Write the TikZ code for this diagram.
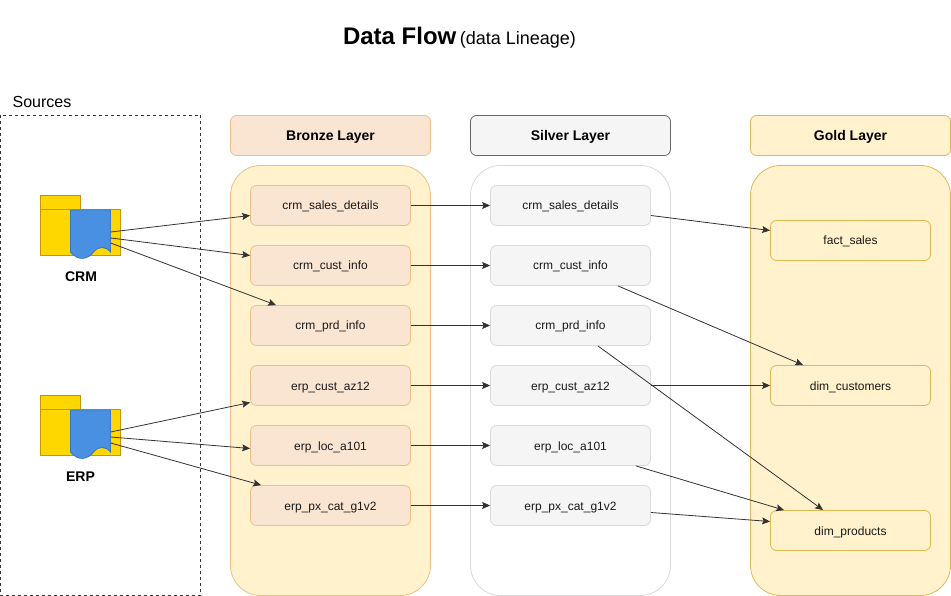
\documentclass[tikz,border=0pt]{standalone}
\usepackage{fontspec}
\usetikzlibrary{arrows.meta}
\setmainfont{Liberation Sans}
\definecolor{bronzefill}{HTML}{FAE5D3}
\definecolor{bronzeline}{HTML}{F2BE85}
\definecolor{goldfill}{HTML}{FFF2CC}
\definecolor{goldline}{HTML}{E0B950}
\definecolor{silverfill}{HTML}{F5F5F5}
\definecolor{silverline}{HTML}{DADADA}
\definecolor{flowline}{HTML}{333333}
\definecolor{folderfill}{HTML}{FFD700}
\definecolor{folderline}{HTML}{C6930A}
\definecolor{docfill}{HTML}{4A90E2}
\definecolor{docline}{HTML}{357ABD}
\tikzset{
	panel/.style={rounded corners=30pt,minimum width=200pt,minimum height=430pt,line width=.8pt},
	head/.style={rounded corners=6pt,minimum width=200pt,minimum height=40pt,line width=.8pt,text height=10.5pt,text depth=0pt,font=\fontsize{14}{16}\selectfont\bfseries},
	tbl/.style={rounded corners=6pt,minimum width=160pt,minimum height=40pt,line width=.8pt,text height=9pt,text depth=0pt,font=\fontsize{12}{14}\selectfont,text=black!90},
	bronze/.style={tbl,fill=bronzefill,draw=bronzeline},
	silver/.style={tbl,fill=silverfill,draw=silverline},
	gold/.style={tbl,fill=goldfill,draw=goldline},
	flow/.style={->,draw=flowline,line width=.8pt},
	srcdoc/.style={minimum width=40pt,minimum height=44pt,inner sep=0pt},
	srclabel/.style={font=\fontsize{14}{16}\selectfont\bfseries}
}
\newcommand{\srcicon}[1]{
	\draw[fill=folderfill,draw=folderline,line width=.8pt] (40,#1-14) rectangle (80,#1);
	\draw[fill=folderfill,draw=folderline,line width=.8pt] (40,#1) rectangle (120,#1+46);
	\draw[fill=docfill,draw=docline,line width=.8pt] (70,#1+1) -- (110,#1+1) -- (110,#1+43) .. controls (105,#1+37) and (98,#1+37) .. (93,#1+43) .. controls (88,#1+50) and (78,#1+53) .. (70,#1+43) -- cycle;
}
\begin{document}
\begin{tikzpicture}[x=1pt,y=-1pt,>={Stealth[length=8pt,width=7pt,inset=1.5pt]}]
\useasboundingbox (-.5,0) rectangle (950.5,596);
\node (title) at (459,38) {\fontsize{24}{28}\selectfont\bfseries Data Flow\hspace{3.5pt}\fontsize{18}{28}\selectfont\mdseries (data Lineage)};
\node[font=\fontsize{16}{18}\selectfont] (sourcestitle) at (41.5,102) {Sources};
\draw[dashed,dash pattern=on 3pt off 3pt,line width=.7pt,draw=black!80] (0,115) rectangle (200,595.5);

\node[panel,fill=goldfill,draw=bronzeline] (bronzepanel) at (330,380.5) {};
\node[panel,fill=white,draw=silverline] (silverpanel) at (570,380.5) {};
\node[panel,fill=goldfill,draw=goldline] (goldpanel) at (850,380.5) {};
\node[head,fill=bronzefill,draw=bronzeline] (bronzehead) at (330,135.5) {Bronze Layer};
\node[head,fill=silverfill,draw=black!60] (silverhead) at (570,135.5) {Silver Layer};
\node[head,fill=goldfill,draw=goldline] (goldhead) at (850,135.5) {Gold Layer};

\srcicon{209}
\srcicon{409}
\node[srcdoc] (crmdoc) at (90,232) {};
\node[srcdoc] (erpdoc) at (90,432) {};
\node[srclabel] (crmlabel) at (80.5,277) {CRM};
\node[srclabel] (erplabel) at (80,477) {ERP};

\node[bronze] (bsales) at (330,205.5) {crm\_sales\_details};
\node[bronze] (bcust) at (330,265.5) {crm\_cust\_info};
\node[bronze] (bprd) at (330,325.5) {crm\_prd\_info};
\node[bronze] (baz) at (330,385.5) {erp\_cust\_az12};
\node[bronze] (bloc) at (330,445.5) {erp\_loc\_a101};
\node[bronze] (bpx) at (330,505.5) {erp\_px\_cat\_g1v2};

\node[silver] (ssales) at (570,205.5) {crm\_sales\_details};
\node[silver] (scust) at (570,265.5) {crm\_cust\_info};
\node[silver] (sprd) at (570,325.5) {crm\_prd\_info};
\node[silver] (saz) at (570,385.5) {erp\_cust\_az12};
\node[silver] (sloc) at (570,445.5) {erp\_loc\_a101};
\node[silver] (spx) at (570,505.5) {erp\_px\_cat\_g1v2};

\node[gold] (gsales) at (850,240.5) {fact\_sales};
\node[gold] (gcust) at (850,385.5) {dim\_customers};
\node[gold] (gprd) at (850,530.5) {dim\_products};

\draw[flow] (crmdoc.east) -- ([yshift=-10pt]bsales.west);
\draw[flow] ([yshift=-6pt]crmdoc.east) -- ([yshift=10pt]bcust.west);
\draw[flow] ([yshift=-11pt]crmdoc.east) -- ([xshift=26pt]bprd.north west);
\draw[flow] (erpdoc.east) -- ([yshift=-17pt]baz.west);
\draw[flow] ([yshift=-5pt]erpdoc.east) -- ([yshift=-3pt]bloc.west);
\draw[flow] ([yshift=-11pt]erpdoc.east) -- ([xshift=11pt]bpx.north west);

\draw[flow] (bsales) -- (ssales);
\draw[flow] (bcust) -- (scust);
\draw[flow] (bprd) -- (sprd);
\draw[flow] (baz) -- (saz);
\draw[flow] (bloc) -- (sloc);
\draw[flow] (bpx) -- (spx);

\draw[flow] ([yshift=-10pt]ssales.east) -- ([yshift=10pt]gsales.west);
\draw[flow] ([xshift=-33pt]scust.south east) -- ([xshift=33pt]gcust.north west);
\draw[flow] ([xshift=-53pt]sprd.south east) -- ([xshift=53pt]gprd.north west);
\draw[flow] (saz) -- (gcust);
\draw[flow] ([xshift=-15pt]sloc.south east) -- ([xshift=14pt]gprd.north west);
\draw[flow] ([yshift=-7pt]spx.east) -- ([yshift=9pt]gprd.west);
\end{tikzpicture}
\end{document}
